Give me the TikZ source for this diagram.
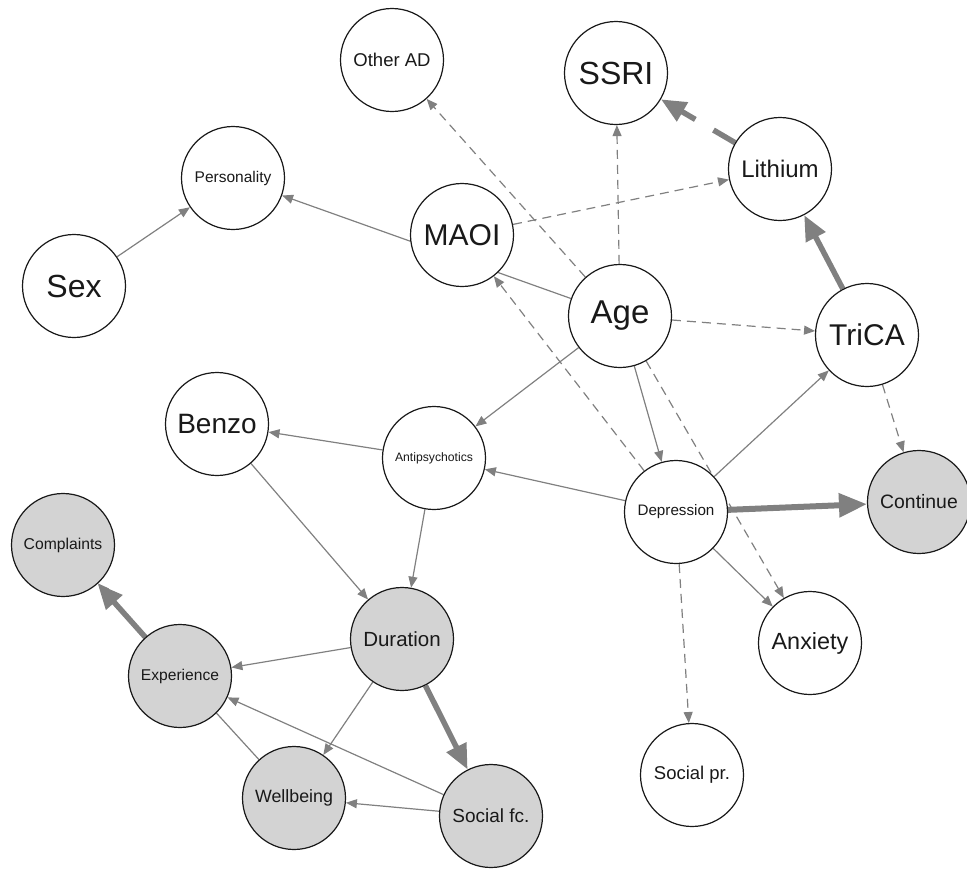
\documentclass[tikz,border=0pt]{standalone}
\usepackage{fontspec}
\setmainfont{Liberation Sans}
\usetikzlibrary{arrows.meta,backgrounds}
\definecolor{edgec}{RGB}{128,128,128}
\definecolor{fillg}{RGB}{211,211,211}
\begin{document}
\begin{tikzpicture}[x=1pt,y=-1pt,
  nd/.style={circle,draw=black!90,line width=1.2pt,fill=white,minimum size=103pt,inner sep=0pt,text=black!90,font=\fontsize{#1}{#1}\selectfont},
  gn/.style={nd=#1,fill=fillg},
  ed/.style={draw=edgec,line width=1.2pt,-{Triangle[length=11pt,width=9pt]}},
  edd/.style={ed,dash pattern=on 9pt off 6pt},
  eth/.style={draw=edgec,line width=5.5pt,-{Triangle[length=25pt,width=21pt]}},
  ln/.style={draw=edgec,line width=1.2pt}]
\useasboundingbox (0,0) rectangle (967,868);
% nodes
\node[nd=18.5] (oad) at (392,60) {Other AD};
\node[nd=32] (ssri) at (616,73) {SSRI};
\node[nd=15.5] (pers) at (233,178) {Personality};
\node[nd=24] (lith) at (780,169) {Lithium};
\node[nd=30] (maoi) at (462,235) {MAOI};
\node[nd=32] (sex) at (74,286) {Sex};
\node[nd=33] (age) at (620,316) {Age};
\node[nd=30] (trica) at (867,335) {TriCA};
\node[nd=28] (benzo) at (217,424) {Benzo};
\node[nd=12.2] (anti) at (434,458) {Antipsychotics};
\node[nd=15.2] (dep) at (676,512) {Depression};
\node[gn=19.4] (cont) at (919,502) {Continue};
\node[gn=15.7] (compl) at (63,545) {Complaints};
\node[gn=20.5] (dur) at (402,639) {Duration};
\node[gn=15.6] (exper) at (180,676) {Experience};
\node[nd=23.4] (anx) at (810,643) {Anxiety};
\node[nd=18.5] (socpr) at (692,775) {Social pr.};
\node[gn=17.8] (well) at (294,798) {Wellbeing};
\node[gn=19] (socfc) at (491,816) {Social fc.};
% edges
\begin{scope}[on background layer]
\draw[ed] (sex) -- (pers);
\draw[ed] (age) -- (pers);
\draw[edd] (age) -- (oad);
\draw[edd] (age) -- (ssri);
\draw[edd] (maoi) -- (lith);
\draw[eth,dash pattern=on 25pt off 21pt on 80pt] (lith) -- (ssri);
\draw[eth] (trica) -- (lith);
\draw[edd] (age) -- (trica);
\draw[edd] (trica) -- (cont);
\draw[ed] (dep) -- (trica);
\draw[ed] (age) -- (anti);
\draw[ed] (age) -- (dep);
\draw[edd] (dep) -- (maoi);
\draw[edd] (age) -- (anx);
\draw[ed] (dep) -- (anti);
\draw[eth,line width=6pt,-{Triangle[length=28pt,width=23pt]}] (dep) -- (cont);
\draw[ed] (dep) -- (anx);
\draw[edd] (dep) -- (socpr);
\draw[ed] (anti) -- (benzo);
\draw[ed] (benzo) -- (dur);
\draw[ed] (anti) -- (dur);
\draw[ed] (dur) -- (exper);
\draw[ed] (dur) -- (well);
\draw[eth] (dur) -- (socfc);
\draw[ed] (socfc) -- (exper);
\draw[ed] (socfc) -- (well);
\draw[ed] (well) -- (compl);
\draw[eth] (exper) -- (compl);
\end{scope}
\end{tikzpicture}
\end{document}
